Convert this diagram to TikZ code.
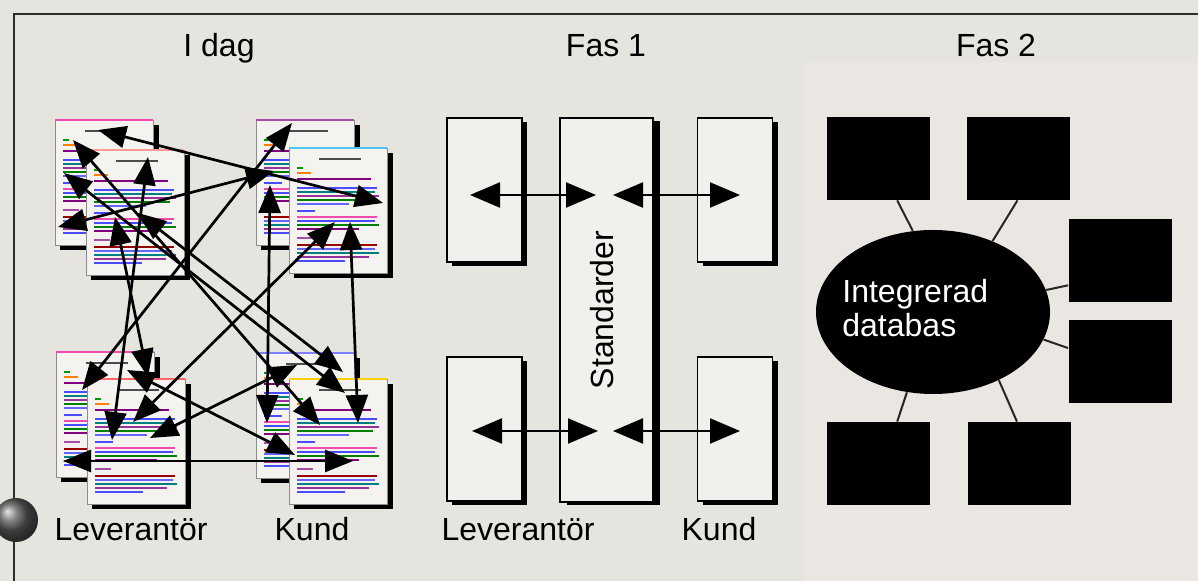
\documentclass[tikz,border=0pt]{standalone}
\usepackage{fontspec}
\setmainfont{Liberation Sans}
\usetikzlibrary{arrows.meta,shapes.geometric,calc,shadows}

\definecolor{paperbg}{RGB}{230,228,223}
\definecolor{dotbg}{RGB}{234,231,227}
\definecolor{sheet}{RGB}{244,243,240}
\definecolor{framegray}{RGB}{45,45,45}

\tikzset{
  lbl/.style={font=\fontsize{16}{17}\selectfont, text=black, inner sep=0pt},
  link/.style={line width=1.35pt,
    {Triangle[length=14pt,width=11pt]}-{Triangle[length=14pt,width=11pt]}},
  flow/.style={line width=1.1pt,
    {Triangle[length=15pt,width=12.5pt]}-{Triangle[length=15pt,width=12.5pt]}},
  fasbox/.style={draw=black, line width=0.9pt, fill=paperbg!55!white, inner sep=0pt,
    drop shadow={shadow xshift=2.5pt, shadow yshift=-2pt, fill=black, opacity=1}},
  stdbox/.style={draw=black, line width=0.9pt, fill=paperbg!55!white, inner sep=0pt,
    minimum width=46.5pt, minimum height=192pt,
    drop shadow={shadow xshift=3.5pt, shadow yshift=-1.5pt, fill=black, opacity=1}},
  smallbox/.style={minimum width=37.5pt, minimum height=72pt},
  blackbox/.style={fill=black, inner sep=0pt, minimum width=51.5pt, minimum height=41.5pt},
  spoke/.style={line width=1pt, draw=black!85},
}

% one printed sheet with coloured text lines: x, y (top left), colour of top rule
\newcommand\docsheet[3]{%
  \begin{scope}[shift={(#1,#2)}]
    \fill[black] (5,5) rectangle (104,130);
    \fill[sheet] (0,0) rectangle (98,125);
    \draw[black!45, line width=0.4pt] (0,0) rectangle (98,125);
    \draw[#3, line width=1.1pt] (0,0) -- (98,0);
    \draw[black!70, line width=1pt] (30,11) -- (72,11);
    \foreach \yy/\xa/\xb/\cc in {
      20/8/14/green!60!black, 25/8/22/orange, 31/8/82/violet,
      40/8/88/blue!70, 44/8/86/teal, 48/8/90/violet!80,
      52/8/84/green!50!black, 56/8/60/blue!60,
      63/8/26/blue!70, 69/8/88/magenta!70, 73/8/86/blue!70,
      77/8/90/green!50!black, 81/8/70/violet,
      90/8/24/violet!70, 97/8/88/red!60!black, 101/8/86/blue!60,
      105/8/90/teal, 109/8/80/violet!80, 113/8/56/blue!70}
      {\draw[\cc, line width=0.9pt] (\xa,\yy) -- (\xb,\yy);}
  \end{scope}}

\begin{document}
\begin{tikzpicture}[x=0.5pt, y=-0.5pt]
  % page background
  \fill[paperbg] (0,0) rectangle (1198,581);
  \fill[dotbg] (805,62) rectangle (1198,581);
  \useasboundingbox (0,0) rectangle (1198,581);

  % frame
  \draw[framegray, line width=1.3pt] (14,581) -- (14,14) -- (1198,14);

  % headings
  \node[lbl, anchor=base] (tIdag) at (219,57) {I dag};
  \node[lbl, anchor=base] (tFas1) at (606,57) {Fas 1};
  \node[lbl, anchor=base] (tFas2) at (996,57) {Fas 2};

  % bottom labels
  \node[lbl, anchor=base] (lev0) at (131,541) {Leverantör};
  \node[lbl, anchor=base] (kund0) at (312,541) {Kund};
  \node[lbl, anchor=base] (lev1) at (518,541) {Leverantör};
  \node[lbl, anchor=base] (kund1) at (719,541) {Kund};

  % ---------- I dag: stacks of paper documents ----------
  \docsheet{55}{120}{magenta!70}
  \docsheet{86}{150}{pink!80!red}
  \docsheet{256}{120}{violet!70}
  \docsheet{289}{148}{cyan!70}
  \docsheet{56}{352}{magenta!70}
  \docsheet{87}{379}{red!60}
  \docsheet{256}{353}{blue!50}
  \docsheet{289}{379}{yellow!70!orange}

  % arrow end points
  \coordinate (a1) at (98,130);   \coordinate (a2) at (383,203);
  \coordinate (b1) at (63,461);   \coordinate (b2) at (353,461);
  \coordinate (c1) at (270,185);  \coordinate (c2) at (267,423);
  \coordinate (d1) at (350,222);  \coordinate (d2) at (358,423);
  \coordinate (e1) at (58,227);   \coordinate (e2) at (274,171);
  \coordinate (f1) at (297,365);  \coordinate (f2) at (150,438);
  \coordinate (g1) at (335,222);  \coordinate (g2) at (133,422);
  \coordinate (h1) at (127,370);  \coordinate (h2) at (295,455);
  \coordinate (i1) at (73,140);   \coordinate (i2) at (320,425);
  \coordinate (j1) at (64,173);   \coordinate (j2) at (345,393);
  \coordinate (k1) at (138,213);  \coordinate (k2) at (343,372);
  \coordinate (m1) at (148,157);  \coordinate (m2) at (112,440);
  \coordinate (n1) at (115,217);  \coordinate (n2) at (148,377);
  \coordinate (p1) at (292,123);  \coordinate (p2) at (82,390);

  \foreach \s in {a,b,c,d,e,f,g,h,i,j,k,m,n,p}
    {\draw[link] (\s1) -- (\s2);}

  % ---------- Fas 1: common standards ----------
  \node[stdbox] (std) at (606.5,310) {};
  \node[lbl, rotate=90] (stdtxt) at (602,310) {Standarder};
  \node[fasbox, smallbox] (s1) at (484.5,190) {};
  \node[fasbox, smallbox] (s2) at (735,190) {};
  \node[fasbox, smallbox] (s3) at (484.5,429) {};
  \node[fasbox, smallbox] (s4) at (735,429) {};

  \coordinate (u1) at (470,195);  \coordinate (u2) at (596,195);
  \coordinate (u3) at (613,195);  \coordinate (u4) at (740,195);
  \coordinate (v1) at (472,431);  \coordinate (v2) at (598,431);
  \coordinate (v3) at (613,431);  \coordinate (v4) at (740,431);
  \draw[flow] (u1) -- (u2);
  \draw[flow] (u3) -- (u4);
  \draw[flow] (v1) -- (v2);
  \draw[flow] (v3) -- (v4);

  % ---------- Fas 2: integrated database ----------
  \node[blackbox] (q1) at (878.5,158.5) {};
  \node[blackbox] (q2) at (1018.5,158.5) {};
  \node[blackbox] (q3) at (1120,261) {};
  \node[blackbox] (q4) at (1120,361.5) {};
  \node[blackbox] (q5) at (878.5,463.5) {};
  \node[blackbox] (q6) at (1019,463.5) {};

  \node[ellipse, fill=black, inner sep=0pt, minimum width=117pt, minimum height=82pt]
    (db) at (933,312) {};
  \node[lbl, text=white, anchor=base west, align=left,
        font=\fontsize{16}{17}\selectfont] (dbtxt) at (842,337)
        {Integrerad\\databas};

  \draw[spoke] (db.104.7) -- ($(q1.south west)!0.68!(q1.south east)$);
  \draw[spoke] (db.50.7)  -- ($(q2.south west)!0.49!(q2.south east)$);
  \draw[spoke] (db.11.9)  -- ($(q3.north west)!0.79!(q3.south west)$);
  \draw[spoke] (db.-14.3) -- ($(q4.north west)!0.34!(q4.south west)$);
  \draw[spoke] (db.-108)  -- ($(q5.north west)!0.68!(q5.north east)$);
  \draw[spoke] (db.-46.3) -- ($(q6.north west)!0.48!(q6.north east)$);

  % bullet on the frame
  \shade[ball color=black!65] (16,520) circle[radius=11pt];
\end{tikzpicture}
\end{document}
